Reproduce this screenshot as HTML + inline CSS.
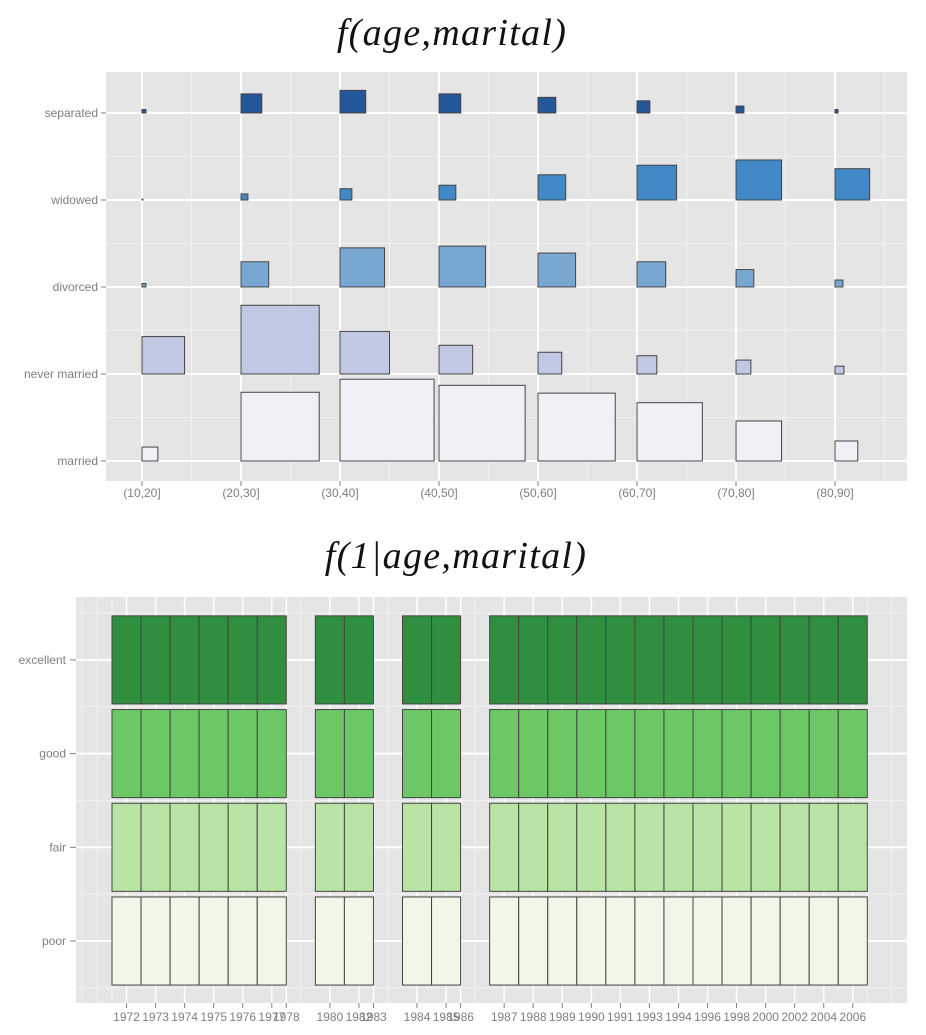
<!DOCTYPE html>
<html><head><meta charset="utf-8"><style>
html,body{margin:0;padding:0;background:#fff;}
svg{display:block;font-family:"Liberation Sans",sans-serif;}
</style></head><body>
<svg id="chart" width="926" height="1035" viewBox="0 0 926 1035">
<text x="452" y="45" text-anchor="middle" font-family="Liberation Serif,serif" font-style="italic" font-size="38" letter-spacing="1.3" fill="#111">f(age,marital)</text>
<text x="456" y="568" text-anchor="middle" font-family="Liberation Serif,serif" font-style="italic" font-size="38" letter-spacing="1.3" fill="#111">f(1|age,marital)</text>
<g id="top"></g>
<g id="bot"></g>
</svg>
<script>
// ---- top chart data ----
const ageGroups = ["(10,20]","(20,30]","(30,40]","(40,50]","(50,60]","(60,70]","(70,80]","(80,90]"];
const maritalLevels = ["married","never married","divorced","widowed","separated"];
const wMarried  = [0.16,0.79,0.95,0.87,0.78,0.66,0.46,0.23];
const wNever    = [0.43,0.79,0.50,0.34,0.24,0.20,0.15,0.09];
const wDivorced = [0.04,0.28,0.45,0.47,0.38,0.29,0.18,0.08];
const wWidowed  = [0.01,0.07,0.12,0.17,0.28,0.40,0.46,0.35];
const wSeparated= [0.04,0.21,0.26,0.22,0.18,0.13,0.08,0.03];
const hMarried  = [0.16,0.79,0.94,0.87,0.78,0.67,0.46,0.23];
const hNever    = [0.43,0.79,0.49,0.33,0.25,0.21,0.16,0.09];
const hDivorced = [0.04,0.29,0.45,0.47,0.39,0.29,0.20,0.08];
const hWidowed  = [0.01,0.07,0.13,0.17,0.29,0.40,0.46,0.36];
const hSeparated= [0.04,0.22,0.26,0.22,0.18,0.14,0.08,0.04];
const topColors = ["#f3eff6","#c0c8e4","#78a8d2","#4189c6","#24569a"];

// ---- bottom chart data ----
const yearLabels = ["1972","1973","1974","1975","1976","1977","1978","","1980","1982","1983","","1984","1985","1986","","1987","1988","1989","1990","1991","1993","1994","1996","1998","2000","2002","2004","2006"];
const yearWidths = [1,1,1,1,1,1,0,1,1,1,0,1,1,1,0,1,1,1,1,1,1,1,1,1,1,1,1,1,1];
const healthLevels = ["poor","fair","good","excellent"];
const healthShare = [0.94,0.94,0.94,0.94];
const botColors = ["#eff7e8","#bae4a5","#6cc865","#2f8f3e"];

const NS="http://www.w3.org/2000/svg";
function mk(parent,tag,attrs){const e=document.createElementNS(NS,tag);for(const k in attrs)e.setAttribute(k,attrs[k]);parent.appendChild(e);return e;}

// ===== top =====
(function(){
  const g=document.getElementById('top');
  const L=106,R=907,T=72,B=481;
  const sx=i=>142+i*99, step=99;
  const sy=i=>461-i*87, ystep=87;
  const bg=mk(g,'rect',{x:L,y:T,width:R-L,height:B-T,fill:'#e5e5e5'});
  
  
  for(let i=-1;i<ageGroups.length;i++){const x=sx(i)+step/2;if(x>L&&x<R)mk(g,'line',{x1:x,x2:x,y1:T,y2:B,stroke:'#f2f2f2','stroke-width':1});}
  for(let i=-1;i<maritalLevels.length;i++){const y=sy(i)-ystep/2;if(y>T&&y<B)mk(g,'line',{x1:L,x2:R,y1:y,y2:y,stroke:'#f2f2f2','stroke-width':1});}
  ageGroups.forEach((a,i)=>{mk(g,'line',{x1:sx(i),x2:sx(i),y1:T,y2:B,stroke:'#fff','stroke-width':2});
    mk(g,'line',{x1:sx(i),x2:sx(i),y1:B,y2:B+5,stroke:'#7f7f7f'});
    const t=mk(g,'text',{x:sx(i),y:B+16,'text-anchor':'middle','font-size':12,fill:'#7f7f7f'});t.textContent=a;
    });
  maritalLevels.forEach((m,j)=>{mk(g,'line',{x1:L,x2:R,y1:sy(j),y2:sy(j),stroke:'#fff','stroke-width':2});
    mk(g,'line',{x1:L-5,x2:L,y1:sy(j),y2:sy(j),stroke:'#7f7f7f'});
    const t=mk(g,'text',{x:98,y:sy(j)+4,'text-anchor':'end','font-size':12,fill:'#7f7f7f'});t.textContent=m;
    });
  const W=[wMarried,wNever,wDivorced,wWidowed,wSeparated], H=[hMarried,hNever,hDivorced,hWidowed,hSeparated];
  maritalLevels.forEach((m,j)=>{ageGroups.forEach((a,i)=>{
    const w=W[j][i]*step, h=H[j][i]*ystep;
    const r=mk(g,'rect',{x:sx(i),y:sy(j)-h,width:w,height:h,fill:topColors[j],stroke:'#444','stroke-width':1});
    
    
  });});
})();

// ===== bottom =====
(function(){
  const g=document.getElementById('bot');
  const L=76,R=907,T=597,B=1003;
  const unit=29.05, x0=112;
  const sy=j=>941-j*93.7, ystep=93.7;
  const bg=mk(g,'rect',{x:L,y:T,width:R-L,height:B-T,fill:'#e5e5e5'});
  
  
  let cx=x0; const lefts=[];
  yearWidths.forEach(w=>{lefts.push(cx);cx+=w*unit;});
  for(let j=-1;j<healthLevels.length;j++){const y=sy(j)-ystep/2;if(y>T&&y<B)mk(g,'line',{x1:L,x2:R,y1:y,y2:y,stroke:'#f2f2f2'});}
  [L+6,97.5,x0,cx,cx+24].forEach(x=>mk(g,'line',{x1:x,x2:x,y1:T,y2:B,stroke:'#f2f2f2'}));
  yearLabels.forEach((lab,i)=>{if(!lab){mk(g,'line',{x1:lefts[i]+unit/2,x2:lefts[i]+unit/2,y1:T,y2:B,stroke:'#f2f2f2'});return;}
    const c=lefts[i]+yearWidths[i]*unit/2;
    mk(g,'line',{x1:c,x2:c,y1:T,y2:B,stroke:'#fff','stroke-width':1.5});
    mk(g,'line',{x1:c,x2:c,y1:B,y2:B+5,stroke:'#7f7f7f'});
    const t=mk(g,'text',{x:c,y:B+18,'text-anchor':'middle','font-size':12,fill:'#7f7f7f'});t.textContent=lab;
    });
  healthLevels.forEach((h,j)=>{mk(g,'line',{x1:L,x2:R,y1:sy(j),y2:sy(j),stroke:'#fff','stroke-width':2});
    mk(g,'line',{x1:L-6,x2:L,y1:sy(j),y2:sy(j),stroke:'#7f7f7f'});
    const t=mk(g,'text',{x:66,y:sy(j)+4,'text-anchor':'end','font-size':12,fill:'#7f7f7f'});t.textContent=h;
    });
  healthLevels.forEach((h,j)=>{yearLabels.forEach((lab,i)=>{
    if(!lab || yearWidths[i]<=0) return;
    const w=yearWidths[i]*unit, hh=healthShare[j]*ystep;
    const r=mk(g,'rect',{x:lefts[i],y:sy(j)-hh/2,width:w,height:hh,fill:botColors[j],stroke:'#444','stroke-width':1});
    
    
  });});
})();
</script>
</body></html>
